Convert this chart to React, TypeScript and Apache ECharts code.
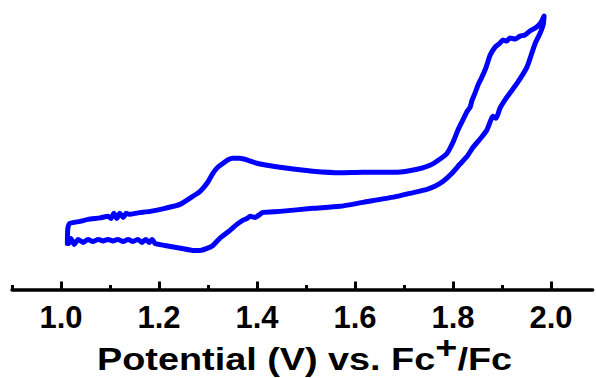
import React, { useEffect, useRef } from "react";
import * as echarts from "echarts";

// Forward (anodic) sweep: potential (V vs Fc+/Fc) and current (arb. units)
const forwardPotential = [
  1.013, 1.014, 1.018, 1.039, 1.055, 1.08, 1.096, 1.102, 1.108, 1.114, 1.12, 1.127, 1.133, 1.139,
  1.157, 1.182, 1.212, 1.243, 1.269, 1.284, 1.298, 1.31, 1.32, 1.331, 1.341, 1.351, 1.365, 1.382,
  1.4, 1.427, 1.447, 1.478, 1.514, 1.569, 1.616, 1.686, 1.727, 1.753, 1.773, 1.788, 1.8, 1.81,
  1.82, 1.829, 1.835, 1.839, 1.845, 1.851, 1.859, 1.867, 1.876, 1.886, 1.896, 1.902, 1.91, 1.916,
  1.927, 1.937, 1.947, 1.957, 1.971, 1.98, 1.986,
];
const forwardCurrent = [
  4.6, 6.1, 6.6, 6.8, 7.0, 7.15, 7.3, 7.1, 7.6, 7.1, 7.6, 7.2, 7.6, 7.5,
  7.65, 7.8, 8.1, 8.5, 9.3, 9.8, 10.6, 11.6, 12.2, 12.6, 12.95, 13.1, 13.1, 12.9,
  12.6, 12.35, 12.2, 12.0, 11.8, 11.65, 11.7, 11.7, 12.0, 12.4, 13.0, 13.6, 14.7, 15.9,
  16.9, 17.8, 18.2, 18.9, 19.6, 20.4, 21.2, 22.1, 23.4, 24.2, 24.6, 24.9, 24.8, 25.1,
  25.0, 25.3, 25.4, 25.8, 26.2, 26.7, 27.3,
];

// Reverse (cathodic) sweep
const reversePotential = [
  1.984, 1.978, 1.969, 1.963, 1.951, 1.931, 1.91, 1.896, 1.888, 1.882, 1.869, 1.855, 1.841, 1.829,
  1.814, 1.798, 1.78, 1.763, 1.747, 1.712, 1.686, 1.616, 1.569, 1.514, 1.447, 1.412, 1.406, 1.396,
  1.386, 1.38, 1.371, 1.359, 1.345, 1.324, 1.31, 1.298, 1.284, 1.269, 1.247, 1.212, 1.192, 1.186,
  1.18, 1.173, 1.165, 1.157, 1.147, 1.137, 1.127, 1.116, 1.106, 1.096, 1.086, 1.076, 1.065, 1.055,
  1.045, 1.035, 1.027, 1.02, 1.016, 1.013,
];
const reverseCurrent = [
  26.4, 25.6, 24.7, 23.9, 22.2, 20.6, 19.2, 18.1, 17.1, 17.3, 15.9, 15.0, 14.2, 13.3,
  12.5, 11.6, 10.8, 10.3, 10.0, 9.6, 9.3, 8.7, 8.3, 8.1, 7.8, 7.7, 7.5, 7.2,
  7.3, 7.1, 6.9, 6.5, 5.9, 5.1, 4.4, 4.1, 3.9, 3.9, 4.1, 4.4, 4.6, 5.0,
  4.7, 5.0, 4.7, 5.0, 4.8, 5.0, 4.8, 5.0, 4.85, 5.0, 4.85, 5.0, 4.8, 5.0,
  4.7, 5.0, 4.5, 5.1, 4.6, 4.6,
];

const majorTicks = [1.0, 1.2, 1.4, 1.6, 1.8, 2.0];
const minorTicks = [0.9, 1.1, 1.3, 1.5, 1.7, 1.9];
const xMin = 0.9;
const xMax = 2.085;
const yMin = 0;
const yMax = 28.9;

const FONT = "'Liberation Sans', Arial, sans-serif";

export default function App() {
  const ref = useRef<HTMLDivElement>(null);

  useEffect(() => {
    if (!ref.current) return;
    const chart = echarts.init(ref.current, undefined, { renderer: "svg" });

    const data: number[][] = [];
    forwardPotential.forEach((p, i) => data.push([p, forwardCurrent[i]]));
    reversePotential.forEach((p, i) => data.push([p, reverseCurrent[i]]));

    chart.setOption({
      animation: false,
      backgroundColor: "#ffffff",
      grid: { left: 12, right: 3.4, top: 0, bottom: 88.5, containLabel: false },
      xAxis: [
        {
          type: "value",
          min: xMin,
          max: xMax,
          position: "bottom",
          axisLine: { show: true, lineStyle: { color: "#000", width: 3.5 } },
          axisTick: {
            show: true,
            inside: true,
            length: 8,
            customValues: majorTicks,
            lineStyle: { color: "#000", width: 3 },
          },
          axisLabel: {
            show: true,
            customValues: majorTicks,
            margin: 12,
            color: "#000",
            fontSize: 31,
            fontWeight: "bold",
            fontFamily: FONT,
            formatter: (v: number) => v.toFixed(1),
          },
          splitLine: { show: false },
        },
        {
          type: "value",
          min: xMin,
          max: xMax,
          position: "bottom",
          axisLine: { show: false },
          axisTick: {
            show: true,
            inside: true,
            length: 4.5,
            customValues: minorTicks,
            lineStyle: { color: "#000", width: 3 },
          },
          axisLabel: { show: false },
          splitLine: { show: false },
        },
      ],
      yAxis: {
        type: "value",
        min: yMin,
        max: yMax,
        show: false,
        splitLine: { show: false },
      },
      graphic: [
        {
          type: "text",
          x: 304.5,
          y: 353.4,
          scaleX: 1.22,
          style: {
            text: "{m|Potential (V) vs. Fc}{s|+}{m|/Fc}",
            align: "center",
            verticalAlign: "middle",
            fill: "#000",
            rich: {
              m: {
                fontSize: 31,
                fontWeight: "bold",
                fontFamily: FONT,
                fill: "#000",
                verticalAlign: "bottom",
              },
              s: {
                fontSize: 31,
                fontWeight: "bold",
                fontFamily: FONT,
                fill: "#000",
                padding: [0, 0, 12, 0],
                verticalAlign: "bottom",
              },
            },
          },
        },
      ],
      series: [
        {
          type: "line",
          xAxisIndex: 0,
          data,
          showSymbol: false,
          symbol: "none",
          smooth: 0.2,
          clip: false,
          lineStyle: { color: "#0000ff", width: 5, join: "round", cap: "round" },
        },
      ],
    });

    return () => chart.dispose();
  }, []);

  return (
    <div
      ref={ref}
      style={{ position: "absolute", left: 0, top: 0, width: 596, height: 378 }}
    />
  );
}
